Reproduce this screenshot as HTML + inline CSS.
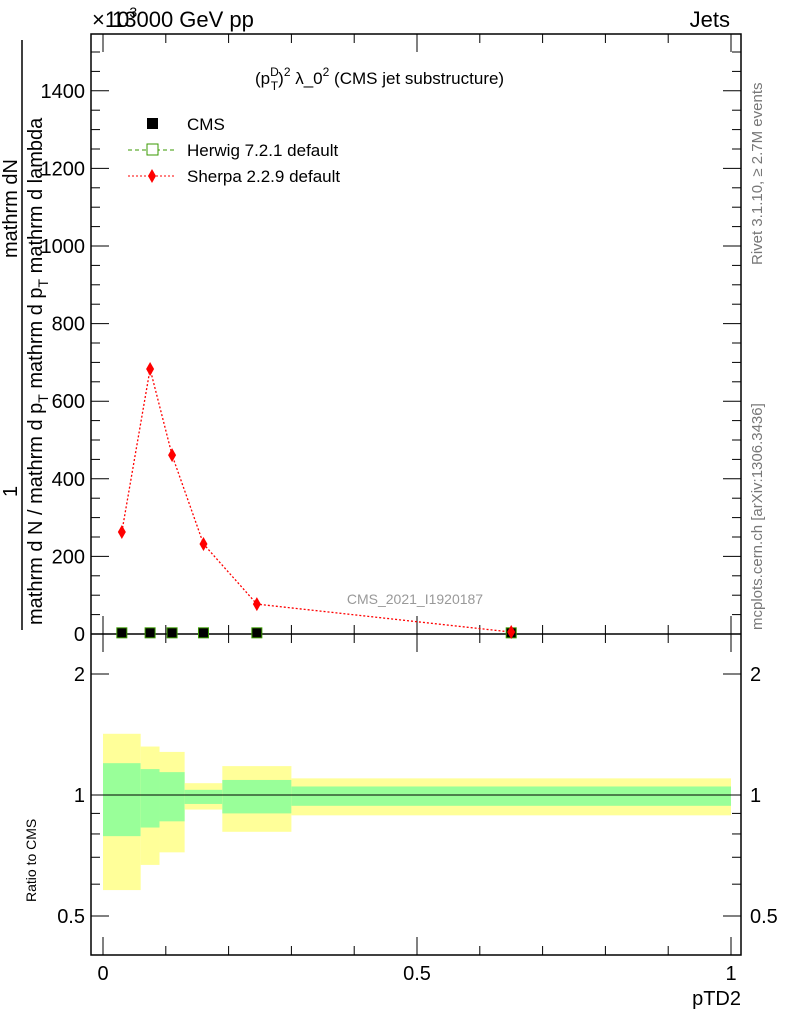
<!DOCTYPE html>
<html><head><meta charset="utf-8"><style>
body{margin:0;background:#fff}
svg text{font-family:"Liberation Sans",sans-serif}
</style></head><body>
<svg id="c" width="786" height="1024" xmlns="http://www.w3.org/2000/svg">
<g id="bands"></g>
<g id="axes"></g>
<g id="marks"></g>
<text x="92" y="27" font-size="22">×10<tspan font-size="14" dy="-10">3</tspan></text>
<text x="112" y="27" font-size="22">13000 GeV pp</text>
<text x="730" y="27" font-size="22" text-anchor="end">Jets</text>
<text x="255" y="84" font-size="17">(p<tspan font-size="12" dy="-8">D</tspan><tspan font-size="12" dx="-8" dy="14">T</tspan><tspan dy="-6">)</tspan><tspan font-size="12" dy="-8">2</tspan><tspan dy="8"> λ_0</tspan><tspan font-size="12" dy="-8">2</tspan><tspan dy="8"> (CMS jet substructure)</tspan></text>
<rect x="147" y="118" width="11" height="11" fill="#000"/>
<text x="187" y="130" font-size="17">CMS</text>
<line x1="128" y1="150" x2="175" y2="150" stroke="#3a9a00" stroke-dasharray="4,3"/>
<rect x="147" y="144" width="11" height="11" fill="#fff" stroke="#3a9a00"/>
<text x="187" y="156" font-size="17">Herwig 7.2.1 default</text>
<line x1="128" y1="176" x2="175" y2="176" stroke="#f00" stroke-dasharray="2,2"/>
<path d="M152,169 L156,176 L152,183 L148,176Z" fill="#f00"/>
<text x="187" y="182" font-size="17">Sherpa 2.2.9 default</text>
<text x="415" y="604" font-size="14" fill="#999" text-anchor="middle">CMS_2021_I1920187</text>
<text transform="translate(762,265) rotate(-90)" font-size="15" fill="#777">Rivet 3.1.10, ≥ 2.7M events</text>
<text transform="translate(762,630) rotate(-90)" font-size="15" fill="#777">mcplots.cern.ch [arXiv:1306.3436]</text>
<text transform="translate(42,625) rotate(-90)" font-size="20">mathrm d N / mathrm d p<tspan font-size="14" dy="6">T</tspan><tspan dy="-6"> mathrm d p</tspan><tspan font-size="14" dy="6">T</tspan><tspan dy="-6"> mathrm d lambda</tspan></text>
<line x1="22" y1="630" x2="22" y2="40" stroke="#000" stroke-width="1.5"/>
<text transform="translate(17,497) rotate(-90)" font-size="20">1</text>
<text transform="translate(17,258) rotate(-90)" font-size="20">mathrm dN</text>
<text transform="translate(36,902) rotate(-90)" font-size="14">Ratio to CMS</text>
<text x="741" y="1005" font-size="20" text-anchor="end">pTD2</text>
</svg>
<script>
const binEdges=[0,0.06,0.09,0.13,0.19,0.30,1];
const binCenters=[0.03,0.075,0.11,0.16,0.245,0.65];
const cmsVals=[3,3,3,3,3,3];
const sherpaVals=[263,683,461,232,77,5];
const yellowHi=[1.42,1.32,1.28,1.07,1.18,1.10];
const yellowLo=[0.58,0.67,0.72,0.92,0.81,0.89];
const greenHi=[1.2,1.16,1.14,1.03,1.09,1.05];
const greenLo=[0.79,0.83,0.86,0.95,0.90,0.94];
const yTicks=[0,200,400,600,800,1000,1200,1400];
const xTicks=[0,0.5,1];
const rTicks=[0.5,1,2];
const NS='http://www.w3.org/2000/svg';
const L=91,R=741,T=34,M=634,B=955;
const X=v=>103+628*v;
const Y=v=>634-v*0.388;
const RY=v=>795-121*Math.log2(v);
function mk(p,tag,a){const e=document.createElementNS(NS,tag);for(const k in a)e.setAttribute(k,a[k]);document.getElementById(p).appendChild(e);return e;}
for(let i=0;i<6;i++){
 let e=mk('bands','rect',{x:X(binEdges[i]),y:RY(yellowHi[i]),width:X(binEdges[i+1])-X(binEdges[i]),height:RY(yellowLo[i])-RY(yellowHi[i]),fill:'#ffff99'});
 
 
 e=mk('bands','rect',{x:X(binEdges[i]),y:RY(greenHi[i]),width:X(binEdges[i+1])-X(binEdges[i]),height:RY(greenLo[i])-RY(greenHi[i]),fill:'#99ff99'});
 
 
}
let e=mk('axes','rect',{x:L,y:T,width:R-L,height:B-T,fill:'none',stroke:'#000','stroke-width':1.5});


e=mk('axes','line',{x1:L,y1:M,x2:R,y2:M,stroke:'#000','stroke-width':1.5});


e=mk('axes','line',{x1:L,y1:RY(1),x2:R,y2:RY(1),stroke:'#000','stroke-width':1});


for(let v=0;v<=1500;v+=50){const y=Y(v);if(y<T)continue;const l=v%200==0?18:9;
 mk('axes','line',{x1:L,y1:y,x2:L+l,y2:y,stroke:'#000'});mk('axes','line',{x1:R,y1:y,x2:R-l,y2:y,stroke:'#000'});}
yTicks.forEach(v=>{const t=mk('axes','text',{x:L-6,y:Y(v)+7,'font-size':20,'text-anchor':'end'});t.textContent=v;
 
 });
for(let v=0;v<=1.0001;v+=0.1){const x=X(v);const big=Math.abs(v*2-Math.round(v*2))<1e-6;const l=big?18:9;
 [[M,M-l],[T,T+l],[B,B-l],[M,M+l]].forEach(a=>mk('axes','line',{x1:x,y1:a[0],x2:x,y2:a[1],stroke:'#000'}));}
xTicks.forEach(v=>{const t=mk('axes','text',{x:X(v),y:980,'font-size':20,'text-anchor':'middle'});t.textContent=v;
 
 });
[0.5,0.6,0.7,0.8,0.9,1,2].forEach(v=>{const y=RY(v);const l=(v==0.5||v==1||v==2)?18:9;
 mk('axes','line',{x1:L,y1:y,x2:L+l,y2:y,stroke:'#000'});mk('axes','line',{x1:R,y1:y,x2:R-l,y2:y,stroke:'#000'});});
rTicks.forEach(v=>{[[L-6,'end'],[750,'start']].forEach(p=>{const t=mk('axes','text',{x:p[0],y:RY(v)+7,'font-size':20,'text-anchor':p[1]});t.textContent=v;
 
 });});
e=mk('marks','polyline',{points:binCenters.map((c,i)=>X(c)+','+Y(sherpaVals[i])).join(' '),fill:'none',stroke:'#f00','stroke-dasharray':'2,2','stroke-width':1.3});


binCenters.forEach((c,i)=>{const x=X(c),y=Y(cmsVals[i]);
 let r=mk('marks','rect',{x:x-5,y:y-5,width:10,height:10,fill:'#000',stroke:'#3a9a00'});
 
 });
binCenters.forEach((c,i)=>{const x=X(c),y=Y(sherpaVals[i]);
 let p=mk('marks','path',{d:`M${x},${y-7}L${x+4},${y}L${x},${y+7}L${x-4},${y}Z`,fill:'#f00'});
 
 });
</script>
</body></html>
